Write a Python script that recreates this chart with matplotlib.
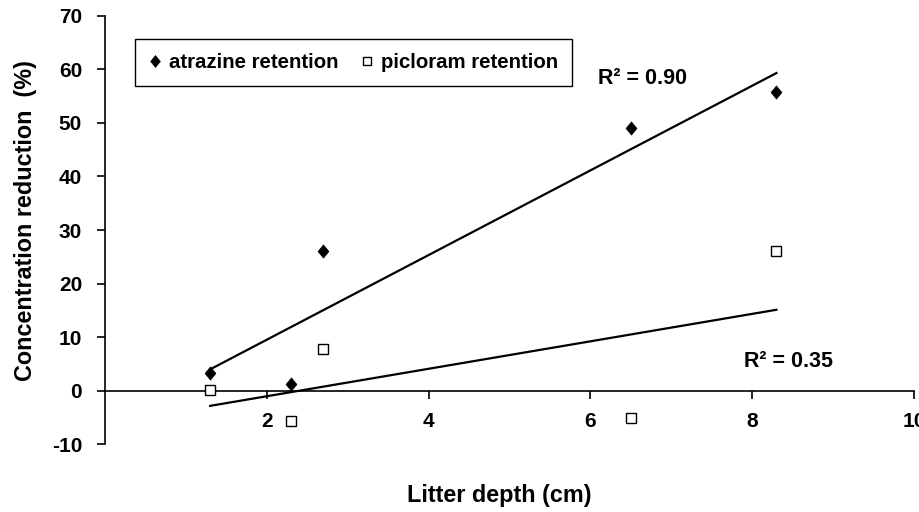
import numpy as np
import matplotlib
matplotlib.use("Agg")
import matplotlib.pyplot as plt
from matplotlib.path import Path
from matplotlib.lines import Line2D

# Litter depth (cm) and concentration reduction (%) for each herbicide
depth = [1.3, 2.3, 2.7, 6.5, 8.3]
atrazine = [3.3, 1.3, 26.0, 49.0, 55.7]
picloram = [0.2, -5.7, 7.8, -5.0, 26.0]

x_ticks = [2, 4, 6, 8, 10]
y_ticks = [-10, 0, 10, 20, 30, 40, 50, 60, 70]
series_names = ["atrazine retention", "picloram retention"]

plt.rcParams["font.family"] = ["Liberation Sans", "DejaVu Sans"]
plt.rcParams["font.weight"] = "bold"

fig = plt.figure(figsize=(9.2, 5.12), dpi=100)
ax = fig.add_axes([0.1141, 0.1322, 0.8793, 0.8371])
ax.set_xlim(0, 10)
ax.set_ylim(-10, 70)

# Tall diamond marker
diamond = Path([(0, 1), (0.82, 0), (0, -1), (-0.82, 0), (0, 1)],
               [Path.MOVETO, Path.LINETO, Path.LINETO, Path.LINETO, Path.CLOSEPOLY])


def fit(x, y):
    x = np.asarray(x, float)
    y = np.asarray(y, float)
    slope, intercept = np.polyfit(x, y, 1)
    pred = slope * x + intercept
    r2 = 1 - np.sum((y - pred) ** 2) / np.sum((y - y.mean()) ** 2)
    return slope, intercept, r2


xs = np.array([min(depth), max(depth)])
sa, ia, r2a = fit(depth, atrazine)
sp, ip, r2p = fit(depth, picloram)
ax.plot(xs, sa * xs + ia, color="black", lw=1.6, zorder=2)
ax.plot(xs, sp * xs + ip, color="black", lw=1.6, zorder=2)

ax.plot(depth, atrazine, linestyle="none", marker=diamond, ms=9.5,
        mfc="black", mec="black", mew=0.5, zorder=3)
ax.plot(depth, picloram, linestyle="none", marker="s", ms=7,
        mfc="white", mec="black", mew=1.0, zorder=3)

ax.text(6.09, 57.3, f"R\u00b2 = {r2a:.2f}", fontsize=15.5, fontweight="bold",
        ha="left", va="baseline")
ax.text(7.9, 4.5, f"R\u00b2 = {r2p:.2f}", fontsize=15.5, fontweight="bold",
        ha="left", va="baseline")

# Axes crossing at the origin
for side in ("top", "right"):
    ax.spines[side].set_visible(False)
ax.spines["bottom"].set_position(("data", 0))
ax.spines["left"].set_position(("data", 0))
for side in ("bottom", "left"):
    ax.spines[side].set_linewidth(1.2)

ax.set_xticks(x_ticks)
ax.set_yticks(y_ticks)
ax.set_xticklabels([str(v) for v in x_ticks])
ax.set_yticklabels([str(v) for v in y_ticks])
ax.tick_params(axis="both", direction="out", length=6, width=1.2, labelsize=15)
ax.tick_params(axis="x", pad=9)
ax.tick_params(axis="y", pad=10.5)
for lab in ax.get_xticklabels() + ax.get_yticklabels():
    lab.set_fontweight("bold")

fig.text(499.5 / 920, 1 - 502 / 512, "Litter depth (cm)", fontsize=16.8,
         fontweight="bold", ha="center", va="baseline")
fig.text(25.5 / 920, 1 - 221 / 512, "Concentration reduction  (%)", fontsize=16.8,
         fontweight="bold", ha="center", va="center", rotation=90)

handles = [
    Line2D([], [], linestyle="none", marker=diamond, ms=8.5, mfc="black",
           mec="black", mew=0.5),
    Line2D([], [], linestyle="none", marker="s", ms=6, mfc="white",
           mec="black", mew=1.0),
]
leg = ax.legend(handles, series_names, ncol=2, loc="upper left",
                bbox_to_anchor=(135 / 920, 1 - 39.3 / 512),
                bbox_transform=fig.transFigure,
                prop={"size": 14.7, "weight": "bold"},
                frameon=True, fancybox=False, edgecolor="black",
                framealpha=1, borderpad=0.67, handlelength=0.6,
                handletextpad=0.4, columnspacing=1.08, borderaxespad=0)
leg.get_frame().set_linewidth(1.0)

fig.savefig("out.png", dpi=100)
